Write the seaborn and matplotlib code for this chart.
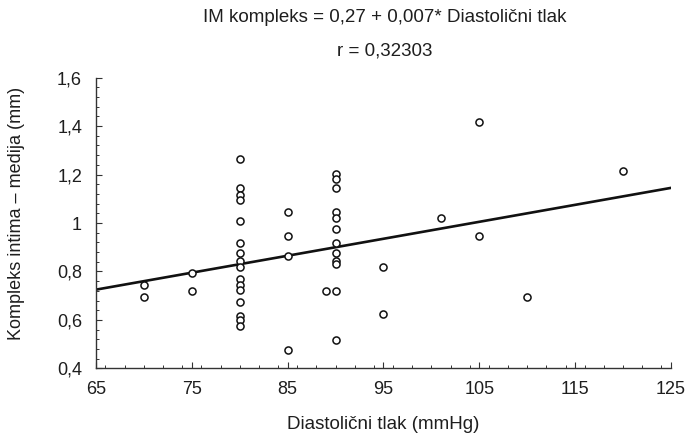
import matplotlib
matplotlib.use("Agg")
import matplotlib.pyplot as plt
from matplotlib.ticker import MultipleLocator, FuncFormatter
import seaborn as sns
import pandas as pd

# diastolic pressure (mmHg) and IM complex (mm)
diastolic = [70, 70,
             75, 75,
             80, 80, 80, 80, 80, 80, 80, 80, 80, 80, 80, 80, 80, 80, 80, 80,
             85, 85, 85, 85,
             89,
             90, 90, 90, 90, 90, 90, 90, 90, 90, 90, 90, 90,
             95, 95,
             101,
             105, 105,
             110,
             120]
im_complex = [0.745, 0.696,
              0.795, 0.719,
              1.265, 1.144, 1.117, 1.096, 1.008, 0.916, 0.877, 0.843, 0.817, 0.767, 0.744, 0.723, 0.675, 0.616, 0.599, 0.576,
              1.045, 0.948, 0.865, 0.477,
              0.719,
              1.202, 1.180, 1.144, 1.045, 1.021, 0.975, 0.916, 0.877, 0.843, 0.829, 0.719, 0.517,
              0.817, 0.624,
              1.021,
              1.418, 0.948,
              0.696,
              1.216]

intercept = 0.27
slope = 0.007
x_range = [65, 125]
x_ticks = [65, 75, 85, 95, 105, 115, 125]
y_ticks = [0.4, 0.6, 0.8, 1.0, 1.2, 1.4, 1.6]

df = pd.DataFrame({"x": diastolic, "y": im_complex})
fit = pd.DataFrame({"x": x_range, "y": [intercept + slope * v for v in x_range]})

sns.set_style("ticks")
plt.rcParams["font.family"] = ["Liberation Sans", "DejaVu Sans"]
text_color = "#1e1e1e"

fig = plt.figure(figsize=(6.9, 4.36), dpi=100)
ax = fig.add_axes([0.139, 0.155, 0.8335, 0.667])

sns.lineplot(data=fit, x="x", y="y", ax=ax, color="#111111", linewidth=1.9, zorder=2)
sns.scatterplot(data=df, x="x", y="y", ax=ax, marker="o", s=26, facecolor="white",
                edgecolor="#111111", linewidth=1.1, zorder=3)

ax.set_xlim(65, 125)
ax.set_ylim(0.4, 1.6)
ax.set_xticks(x_ticks)
ax.set_yticks(y_ticks)
ax.xaxis.set_minor_locator(MultipleLocator(2))
ax.yaxis.set_minor_locator(MultipleLocator(0.04))

def comma_fmt(v, pos):
    if abs(v - round(v)) < 1e-9:
        return str(int(round(v)))
    return ("%.1f" % v).replace(".", ",")

ax.yaxis.set_major_formatter(FuncFormatter(comma_fmt))
ax.tick_params(axis="both", which="major", direction="in", length=4, width=0.8,
               labelsize=13, colors="#333333", labelcolor=text_color)
ax.tick_params(axis="y", which="major", pad=10)
ax.tick_params(axis="x", which="major", pad=9)
ax.tick_params(axis="both", which="minor", direction="in", length=2.5, width=0.7, colors="#333333")
sns.despine(ax=ax)
for side in ["left", "bottom"]:
    ax.spines[side].set_linewidth(1.0)
    ax.spines[side].set_color("#333333")

ax.set_xlabel("Diastolični tlak (mmHg)", fontsize=13.5, color=text_color, labelpad=13)
ax.set_ylabel("Kompleks intima – medija (mm)", fontsize=13, color=text_color)
ax.yaxis.set_label_coords(-0.123, 0.533)

fig.text(0.558, 0.950, "IM kompleks = 0,27 + 0,007* Diastolični tlak", ha="center", va="baseline",
         fontsize=13.5, color=text_color)
fig.text(0.558, 0.872, "r = 0,32303", ha="center", va="baseline", fontsize=13.5, color=text_color)

fig.savefig("out.png", dpi=100)
